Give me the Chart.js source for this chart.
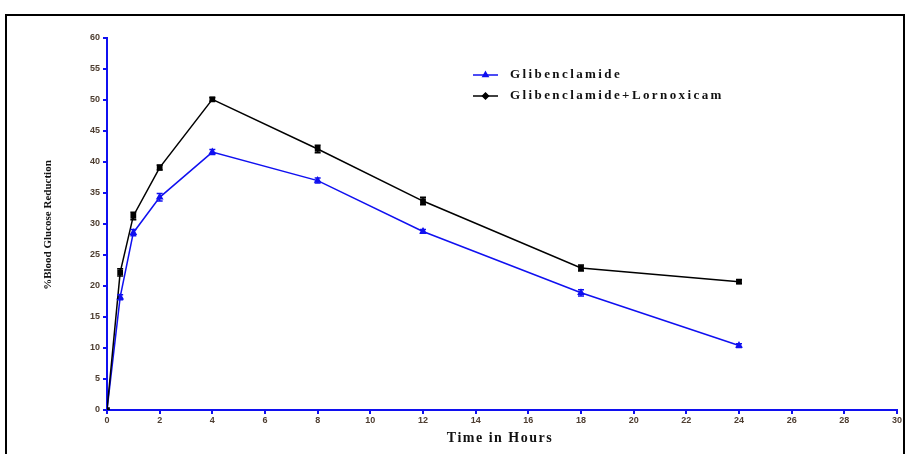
<!DOCTYPE html>
<html>
<head>
<meta charset="utf-8">
<script src="https://cdn.jsdelivr.net/npm/chart.js@4/dist/chart.umd.min.js"></script>
<style>
  html, body { margin: 0; padding: 0; background: #fff; }
  #wrap { position: relative; width: 909px; height: 454px; overflow: hidden; }
  #frame { position: absolute; left: 5px; top: 14px; width: 900px; height: 460px; border: 2px solid #000; box-sizing: border-box; }
  canvas { position: absolute; left: 0; top: 0; }
</style>
</head>
<body>
<div id="wrap">
  <div id="frame"></div>
  <canvas id="c" width="909" height="454"></canvas>
</div>
<script>
const timeHours = [0, 0.5, 1, 2, 4, 8, 12, 18, 24];
const glibenclamide = [0, 18.2, 28.6, 34.3, 41.6, 37.0, 28.8, 18.9, 10.4];
const glibenclamideErr = [0, 0.4, 0.5, 0.6, 0.4, 0.4, 0.3, 0.5, 0.3];
const combination = [0, 22.2, 31.3, 39.1, 50.1, 42.1, 33.7, 22.9, 20.7];
const combinationErr = [0, 0.6, 0.6, 0.4, 0.3, 0.6, 0.6, 0.5, 0.3];
const seriesNames = ['Glibenclamide', 'Glibenclamide+Lornoxicam'];
const xTitle = 'Time in Hours';
const yTitle = '%Blood Glucose Reduction';

const BLUE = '#1010f0';
const tickColor = '#4d3d30';

const toPts = (ys) => timeHours.map((t, i) => ({ x: t, y: ys[i] }));

const errorBars = {
  id: 'errorBars',
  afterDatasetsDraw(chart) {
    const ctx = chart.ctx;
    const ys = chart.scales.y;
    chart.data.datasets.forEach((ds, di) => {
      const meta = chart.getDatasetMeta(di);
      ctx.save();
      ctx.strokeStyle = ds.borderColor;
      ctx.lineWidth = 1.5;
      meta.data.forEach((pt, i) => {
        const e = ds.errors[i];
        if (!e) return;
        const v = ds.data[i].y;
        const yTop = ys.getPixelForValue(v + e);
        const yBot = ys.getPixelForValue(v - e);
        ctx.beginPath();
        ctx.moveTo(pt.x, yTop); ctx.lineTo(pt.x, yBot);
        ctx.moveTo(pt.x - 3, yTop); ctx.lineTo(pt.x + 3, yTop);
        ctx.moveTo(pt.x - 3, yBot); ctx.lineTo(pt.x + 3, yBot);
        ctx.stroke();
      });
      ctx.restore();
    });
  }
};

const decorations = {
  id: 'decorations',
  afterDraw(chart) {
    const ctx = chart.ctx;
    ctx.save();
    ctx.fillStyle = '#111';
    ctx.font = 'bold 11px "Liberation Serif", "DejaVu Serif", serif';
    ctx.translate(48, 225);
    ctx.rotate(-Math.PI / 2);
    ctx.textAlign = 'center';
    ctx.textBaseline = 'middle';
    ctx.fillText(yTitle, 0, 0);
    ctx.restore();

    ctx.save();
    ctx.fillStyle = '#111';
    ctx.font = 'bold 14px "Liberation Serif", "DejaVu Serif", serif';
    ctx.letterSpacing = '1.5px';
    ctx.textAlign = 'center';
    ctx.textBaseline = 'middle';
    ctx.fillText(xTitle, 500, 438);
    ctx.restore();

    const items = [
      { name: seriesNames[0], color: BLUE, style: 'triangle', y: 75 },
      { name: seriesNames[1], color: '#000', style: 'rectRot', y: 96 }
    ];
    items.forEach(it => {
      ctx.save();
      ctx.strokeStyle = it.color;
      ctx.fillStyle = it.color;
      ctx.lineWidth = 1.5;
      ctx.beginPath();
      ctx.moveTo(473, it.y); ctx.lineTo(498, it.y);
      ctx.stroke();
      Chart.helpers.drawPoint(ctx, { pointStyle: it.style, radius: 3, borderWidth: 1 }, 485.5, it.y);
      ctx.fillStyle = '#111';
      ctx.font = 'bold 13px "Liberation Serif", "DejaVu Serif", serif';
      ctx.letterSpacing = '2.4px';
      ctx.textAlign = 'left';
      ctx.textBaseline = 'middle';
      ctx.fillText(it.name, 510, it.y);
      ctx.restore();
    });
  }
};

new Chart(document.getElementById('c'), {
  type: 'line',
  data: {
    datasets: [
      {
        label: seriesNames[0],
        data: toPts(glibenclamide),
        errors: glibenclamideErr,
        borderColor: BLUE,
        backgroundColor: BLUE,
        borderWidth: 1.5,
        pointStyle: 'triangle',
        pointRadius: 3,
        tension: 0,
        order: 2
      },
      {
        label: seriesNames[1],
        data: toPts(combination),
        errors: combinationErr,
        borderColor: '#000',
        backgroundColor: '#000',
        borderWidth: 1.5,
        pointStyle: 'rect',
        pointRadius: 3,
        tension: 0,
        order: 1
      }
    ]
  },
  options: {
    responsive: false,
    animation: false,
    layout: { padding: { left: 0, right: 12, top: 38, bottom: 0 } },
    plugins: { legend: { display: false }, tooltip: { enabled: false } },
    scales: {
      x: {
        type: 'linear',
        min: 0, max: 30,
        afterFit(s) { s.height = 454 - 410; },
        ticks: { stepSize: 2, color: tickColor, font: { size: 9, weight: 'bold', family: '"Liberation Sans", Arial, sans-serif' }, padding: 1, maxRotation: 0 },
        grid: { drawOnChartArea: false, color: BLUE, lineWidth: 2, tickLength: 4 },
        border: { color: BLUE, width: 2 }
      },
      y: {
        min: 0, max: 60,
        afterFit(s) { s.width = 107; },
        ticks: { stepSize: 5, color: tickColor, font: { size: 9, weight: 'bold', family: '"Liberation Sans", Arial, sans-serif' }, padding: 3 },
        grid: { drawOnChartArea: false, color: BLUE, lineWidth: 2, tickLength: 4 },
        border: { color: BLUE, width: 2 }
      }
    }
  },
  plugins: [errorBars, decorations]
});
</script>
</body>
</html>
